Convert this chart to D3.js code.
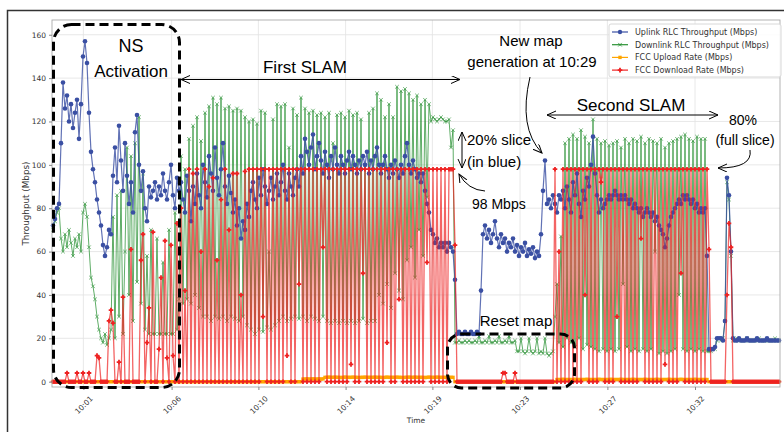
<!DOCTYPE html>
<html>
<head>
	<meta charset="utf-8">
	<script src="https://d3js.org/d3.v7.min.js"></script>
	<title>RLC throughput vs FCC rate</title>
	<style>
		body { margin: 0; background: #fff; }
		svg text { font-family: "DejaVu Sans", sans-serif; }
		.note { font-family: "Liberation Sans", Arial, sans-serif; fill: #000; }
	</style>
</head>
<body>
<div id="chart"></div>
<script type="text/javascript">

	// x is the sample index (one sample every ~2px), ticks are labelled with clock time
	var xTickPos = [15.2, 59.3, 102.7, 146.3, 189.7, 233.5, 277.2, 321];
	var xTickLabels = ["10:01", "10:06", "10:10", "10:14", "10:19", "10:23", "10:27", "10:32"];
	var yTicks = [0, 20, 40, 60, 80, 100, 120, 140, 160];

	var seriesNames = ["Uplink RLC Throughput (Mbps)", "Downlink RLC Throughput (Mbps)",
		"FCC Upload Rate (Mbps)", "FCC Download Rate (Mbps)"];

	var uplink = [
		72, 75, 80, 82, 110, 138, 126, 132, 120, 128,
		117, 124, 130, 112, 128, 150, 157, 147, 124, 106,
		98, 92, 84, 78, 72, 63, 58, 62, 70, 68,
		95, 108, 92, 118, 102, 88, 110, 95, 82, 92,
		78, 115, 123, 100, 88, 97, 80, 74, 90, 85,
		88, 92, 84, 90, 86, 96, 88, 84, 92, 100,
		86, 80, 94, 88, 92, 84, 78, 95, 88, 74,
		90, 82, 96, 86, 80, 100, 92, 85, 104, 96,
		88, 108, 94, 86, 98, 110, 90, 82, 95, 87,
		78, 84, 72, 80, 66, 74, 70, 82, 76, 88,
		92, 84, 80, 94, 86, 98, 90, 82, 88, 94,
		84, 90, 96, 86, 92, 100, 88, 84, 96, 90,
		86, 94, 98, 90, 104, 96, 112, 106, 100, 108,
		114, 98, 104, 110, 102, 96, 106, 100, 94, 104,
		98, 108, 100, 96, 104, 100, 96, 102, 106, 98,
		104, 100, 96, 102, 98, 104, 100, 106, 96, 102,
		98, 104, 108, 100, 96, 100, 104, 98, 94, 100,
		96, 102, 98, 94, 100, 96, 104, 110, 100, 96,
		102, 98, 94, 96, 92, 96, 88, 82, 78, 70,
		68, 64, 66, 62, 64, 62, 64, 60, 64, 62,
		60, 47, 22, 23, 22, 22, 23, 22, 22, 23,
		22, 22, 23, 22, 42, 68, 72, 66, 70, 64,
		68, 74, 66, 62, 68, 64, 66, 60, 64, 62,
		66, 60, 63, 58, 62, 60, 64, 58, 61, 59,
		62, 57, 60, 58, 68, 88, 102, 82, 84, 80,
		86, 82, 78, 86, 84, 88, 80, 90, 84, 78,
		92, 86, 96, 82, 76, 88, 84, 94, 90, 100,
		113, 96, 86, 78, 84, 80, 82, 84, 86, 84,
		86, 88, 86, 84, 86, 84, 86, 84, 82, 84,
		80, 82, 80, 78, 80, 76, 78, 80, 78, 76,
		78, 74, 76, 72, 70, 68, 62, 66, 72, 76,
		78, 80, 82, 84, 82, 86, 84, 86, 84, 82,
		84, 80, 82, 78, 80, 78, 80, 58, 15, 15,
		15, 16, 20, 20, 20, 19, 28, 94, 86, 60,
		20, 19, 19, 20, 19, 19, 19, 20, 19, 19,
		19, 19, 20, 19, 19, 19, 19, 20, 19, 19,
		19, 19, 19, 19
	];

	var downlink = [
		70, 74, 78, 80, 66, 60, 68, 62, 70, 64,
		58, 66, 62, 68, 60, 78, 82, 76, 62, 48,
		44, 38, 30, 24, 20, 18, 22, 17, 20, 24,
		76, 20, 86, 30, 88, 22, 60, 108, 40, 104,
		28, 110, 46, 122, 36, 96, 24, 58, 22, 70,
		22, 22, 66, 22, 22, 55, 22, 22, 70, 22,
		22, 78, 24, 38, 104, 36, 98, 38, 112, 36,
		118, 40, 122, 34, 111, 30, 124, 30, 127, 28,
		131, 30, 128, 29, 131, 30, 126, 28, 127, 30,
		125, 29, 126, 28, 125, 30, 122, 26, 120, 24,
		121, 22, 119, 24, 125, 23, 124, 25, 60, 24,
		121, 26, 128, 28, 127, 30, 128, 28, 108, 29,
		126, 30, 123, 29, 131, 30, 126, 28, 124, 30,
		125, 29, 123, 28, 124, 30, 122, 28, 124, 27,
		110, 28, 123, 27, 124, 28, 122, 27, 125, 28,
		123, 27, 124, 28, 121, 29, 100, 27, 124, 28,
		126, 28, 133, 40, 130, 36, 122, 45, 128, 34,
		122, 50, 136, 42, 134, 38, 135, 56, 133, 62,
		130, 48, 132, 70, 128, 58, 130, 85, 128, 120,
		122, 121, 120, 121, 122, 121, 120, 120, 121, 108,
		116, 18, 18, 19, 18, 18, 19, 18, 19, 18,
		18, 19, 18, 21, 18, 18, 19, 18, 21, 18,
		18, 19, 18, 21, 18, 18, 19, 18, 21, 18,
		18, 19, 14, 14, 20, 14, 13, 14, 20, 14,
		13, 14, 20, 13, 14, 13, 20, 13, 12, 13,
		14, 30, 45, 18, 67, 16, 110, 20, 112, 18,
		114, 16, 112, 20, 116, 15, 113, 17, 110, 16,
		121, 15, 112, 14, 110, 15, 111, 14, 109, 15,
		110, 14, 111, 15, 108, 45, 112, 16, 110, 14,
		112, 15, 111, 14, 113, 15, 110, 14, 112, 15,
		111, 60, 110, 13, 112, 14, 108, 13, 110, 14,
		111, 15, 112, 40, 113, 15, 114, 14, 112, 15,
		111, 14, 113, 15, 112, 14, 112, 14, 14, 14,
		15, 15, 19, 20, 19, 20, 28, 92, 84, 58,
		19, 19, 20, 19, 19, 19, 19, 20, 19, 19,
		19, 19, 19, 20, 19, 19, 19, 19, 19, 19,
		19, 20, 19, 19
	];

	var fccUpload = [
		0, 0, 0, 0, 0, 0, 0, 0, 0, 0,
		0, 0, 0, 0, 0, 0, 0, 0, 0, 0,
		0, 0, 0, 0, 0, 0, 0, 0, 0, 0,
		0, 0, 0, 0, 0, 0, 0, 0, 0, 0,
		0, 0, 0, 0, 0, 0, 0, 0, 0, 0,
		0, 0, 0, 0, 0, 0, 0, 0, 0, 0,
		0, 0, 0, 0, 0, 0, 0, 0, 0, 0,
		0, 0, 0, 0, 0, 0, 0, 0, 0, 0,
		0, 0, 0, 0, 0, 0, 0, 0, 0, 0,
		0, 0, 0, 0, 0, 0, 0, 0, 0, 0,
		0, 0, 0, 0, 0, 0, 0, 0, 0, 0,
		0, 0, 0, 0, 0, 0, 0, 0, 0, 0,
		0, 0, 0, 0, 0, 1.2, 1.2, 1.3, 1.2, 1.2,
		1.3, 1.2, 1.2, 1.3, 1.2, 1.3, 2, 2, 2.1, 2,
		2, 2.1, 2, 2, 1.9, 2, 2.1, 2, 2, 2,
		2.1, 2, 2, 1.9, 2, 2, 2.1, 2, 2, 2,
		2, 2.1, 2, 2, 2, 1.9, 2, 2.1, 2, 2,
		2, 2, 2.1, 2, 2, 1.9, 2, 2, 2.1, 2,
		2, 2.1, 2, 2, 2, 2, 1.9, 2, 2.1, 2,
		2, 2, 2.1, 2, 2, 2, 2, 1.9, 2, 2,
		2, 0, 0, 0, 0, 0, 0, 0, 0, 0,
		0, 0, 0, 0, 0, 0, 0, 0, 0, 0,
		0, 0, 0, 0, 0, 0, 0, 0, 0, 0,
		0, 0, 0, 0, 0, 0, 0, 0, 0, 0,
		0, 0, 0, 0, 0, 0, 0, 0, 0, 0,
		0, 0, 1, 1, 1, 1.1, 1, 1, 1, 1,
		1, 1.1, 1, 1, 1, 1, 1, 1.1, 1, 1,
		1, 1, 1, 1.1, 1, 1, 1, 1, 1, 1.1,
		1, 1, 1, 1, 1.1, 1, 1, 1, 1, 1,
		1.1, 1, 1, 1, 1, 1, 1.1, 1, 1, 1,
		1, 1, 1.1, 1, 1, 1, 1, 1, 1.1, 1,
		1, 1, 1, 1, 1.1, 1, 1, 1, 1, 1,
		1, 1.1, 1, 1, 1, 1, 1, 1, 0, 0,
		0, 0, 0, 0, 0, 0, 0, 0, 0, 0,
		0, 0, 0, 0, 0, 0, 0, 0, 0, 0,
		0, 0, 0, 0, 0, 0, 0, 0, 0, 0,
		0, 0, 0, 0
	];

	var fccDownload = [
		0, 0, 0, 0, 0, 0, 0, 4, 0, 0,
		0, 0, 4, 0, 0, 4, 0, 0, 4, 0,
		0, 0, 12, 11, 0, 0, 0, 0, 28, 33,
		27, 0, 0, 9, 0, 39, 0, 0, 0, 61,
		0, 0, 0, 0, 56, 68, 0, 18, 34, 0,
		69, 0, 0, 15, 48, 0, 65, 11, 0, 63,
		12, 0, 73, 0, 80, 0, 42, 0, 98, 0,
		96, 0, 98, 0, 60, 0, 98, 0, 90, 0,
		94, 0, 56, 0, 84, 0, 98, 0, 70, 0,
		96, 0, 96, 0, 40, 0, 97, 0, 98, 0,
		98, 0, 98, 0, 98, 30, 98, 0, 98, 0,
		98, 0, 98, 0, 98, 0, 98, 12, 98, 0,
		98, 0, 98, 45, 98, 0, 98, 0, 98, 0,
		98, 0, 98, 0, 98, 62, 98, 0, 98, 0,
		98, 0, 98, 0, 98, 0, 98, 0, 98, 8,
		98, 0, 98, 0, 98, 50, 98, 0, 98, 0,
		98, 0, 98, 0, 98, 0, 98, 18, 98, 0,
		98, 0, 98, 38, 98, 0, 98, 0, 98, 0,
		98, 0, 98, 0, 98, 0, 98, 55, 98, 0,
		98, 0, 98, 0, 98, 0, 98, 0, 98, 98,
		98, 63, 0, 0, 0, 0, 0, 0, 0, 0,
		0, 0, 0, 0, 0, 0, 0, 0, 0, 0,
		0, 0, 0, 0, 0, 4, 4, 0, 0, 0,
		0, 4, 0, 0, 0, 0, 0, 0, 0, 0,
		0, 0, 0, 0, 0, 0, 0, 0, 0, 0,
		0, 98, 0, 60, 0, 98, 0, 98, 0, 98,
		0, 98, 0, 98, 0, 98, 40, 98, 0, 98,
		0, 98, 0, 98, 92, 98, 0, 98, 0, 98,
		0, 98, 30, 98, 0, 98, 0, 98, 0, 98,
		0, 98, 0, 98, 66, 98, 0, 98, 0, 98,
		0, 98, 0, 98, 0, 98, 8, 98, 0, 98,
		0, 98, 0, 98, 50, 98, 0, 98, 0, 98,
		0, 98, 0, 98, 0, 98, 0, 98, 61, 0,
		0, 0, 0, 0, 0, 0, 0, 40, 73, 62,
		0, 0, 0, 0, 0, 0, 0, 0, 0, 0,
		0, 0, 0, 0, 0, 0, 0, 0, 0, 0,
		0, 0, 0, 0
	];

	var colBlue = "#3a4fa3", colGreen = "#2a9134", colOrange = "#ffa500", colRed = "#ee2222";

	var svgwidth = 784, svgheight = 432;
	var plotLeft = 52, plotRight = 780, plotTop = 20, plotBottom = 387;

	var svg = d3.select("#chart").append("svg")
		.attr("width", svgwidth)
		.attr("height", svgheight);

	var xScale = d3.scaleLinear()
		.domain([-0.5, uplink.length - 0.5])
		.range([plotLeft, plotRight]);

	var yScale = d3.scaleLinear()
		.domain([-2.45, 166.8])
		.range([plotBottom, plotTop]);

	// arrow heads for the annotations
	var defs = svg.append("defs");
	defs.append("marker")
		.attr("id", "head")
		.attr("markerUnits", "userSpaceOnUse")
		.attr("markerWidth", 12).attr("markerHeight", 10)
		.attr("refX", 9).attr("refY", 4)
		.attr("orient", "auto-start-reverse")
		.append("path")
		.attr("d", "M0,0 L9,4 L0,8")
		.attr("fill", "none").attr("stroke", "#000").attr("stroke-width", 1);

	// figure frame
	svg.append("path")
		.attr("d", "M7.5,432 V10.5 H784")
		.attr("fill", "none").attr("stroke", "#333").attr("stroke-width", 1.5);

	// grid
	svg.append("g").selectAll("line").data(yTicks).enter().append("line")
		.attr("x1", plotLeft).attr("x2", plotRight)
		.attr("y1", function(d){ return yScale(d); })
		.attr("y2", function(d){ return yScale(d); })
		.attr("stroke", "#e2e2e2").attr("stroke-width", 0.8);
	svg.append("g").selectAll("line").data(xTickPos).enter().append("line")
		.attr("y1", plotTop).attr("y2", plotBottom)
		.attr("x1", function(d){ return xScale(d); })
		.attr("x2", function(d){ return xScale(d); })
		.attr("stroke", "#e2e2e2").attr("stroke-width", 0.8);

	var line = d3.line()
		.x(function(d, i){ return xScale(i); })
		.y(function(d){ return yScale(d); });

	// downlink (green x)
	svg.append("path").datum(downlink)
		.attr("d", line).attr("fill", "none")
		.attr("stroke", colGreen).attr("stroke-width", 1).attr("stroke-opacity", 0.75);
	svg.append("g").selectAll("path").data(downlink).enter().append("path")
		.attr("d", "M-1.8,-1.8L1.8,1.8M-1.8,1.8L1.8,-1.8")
		.attr("transform", function(d, i){ return "translate(" + xScale(i) + "," + yScale(d) + ")"; })
		.attr("stroke", colGreen).attr("stroke-width", 0.8).attr("opacity", 0.8);

	// uplink (blue dots)
	svg.append("path").datum(uplink)
		.attr("d", line).attr("fill", "none")
		.attr("stroke", colBlue).attr("stroke-width", 1.2).attr("stroke-opacity", 0.8);
	svg.append("g").selectAll("circle").data(uplink).enter().append("circle")
		.attr("cx", function(d, i){ return xScale(i); })
		.attr("cy", function(d){ return yScale(d); })
		.attr("r", 2.3)
		.attr("fill", colBlue);

	// FCC upload (orange squares)
	svg.append("path").datum(fccUpload)
		.attr("d", line).attr("fill", "none")
		.attr("stroke", colOrange).attr("stroke-width", 1.2);
	svg.append("g").selectAll("rect").data(fccUpload).enter().append("rect")
		.attr("x", function(d, i){ return xScale(i) - 1.7; })
		.attr("y", function(d){ return yScale(d) - 1.7; })
		.attr("width", 3.4).attr("height", 3.4)
		.attr("fill", colOrange);

	// FCC download (red plus)
	svg.append("path").datum(fccDownload)
		.attr("d", line).attr("fill", "none")
		.attr("stroke", colRed).attr("stroke-width", 1.3).attr("stroke-opacity", 0.7);
	svg.append("g").selectAll("path").data(fccDownload).enter().append("path")
		.attr("d", "M-2.3,0H2.3M0,-2.3V2.3")
		.attr("transform", function(d, i){ return "translate(" + xScale(i) + "," + yScale(d) + ")"; })
		.attr("stroke", colRed).attr("stroke-width", 1.8);

	// axes
	svg.append("rect")
		.attr("x", plotLeft).attr("y", plotTop)
		.attr("width", plotRight - plotLeft).attr("height", plotBottom - plotTop)
		.attr("fill", "none").attr("stroke", "#aaa").attr("stroke-width", 0.9);

	var xAxis = svg.append("g")
		.attr("transform", "translate(0," + plotBottom + ")")
		.call(d3.axisBottom(xScale).tickValues(xTickPos)
			.tickFormat(function(d, i){ return xTickLabels[i]; }).tickSize(3));
	xAxis.select(".domain").remove();
	xAxis.selectAll("line").attr("stroke", "#888");
	xAxis.selectAll("text")
		.attr("y", 0).attr("dy", "0.35em")
		.attr("transform", "translate(0,18) rotate(-45)")
		.style("text-anchor", "middle")
		.style("font-size", "7.5px").attr("fill", "#333");

	var yAxis = svg.append("g")
		.attr("transform", "translate(" + plotLeft + ",0)")
		.call(d3.axisLeft(yScale).tickValues(yTicks).tickSize(3));
	yAxis.select(".domain").remove();
	yAxis.selectAll("line").attr("stroke", "#888");
	yAxis.selectAll("text").style("font-size", "7.5px").attr("fill", "#333");

	svg.append("text")
		.attr("x", (plotLeft + plotRight) / 2).attr("y", 423)
		.attr("text-anchor", "middle")
		.style("font-size", "7.5px").attr("fill", "#333")
		.text("Time");

	svg.append("text")
		.attr("transform", "translate(29," + ((plotTop + plotBottom) / 2) + ") rotate(-90)")
		.attr("text-anchor", "middle")
		.style("font-size", "8.8px").attr("fill", "#333")
		.text("Throughput (Mbps)");

	// legend
	var legend = svg.append("g");
	legend.append("rect")
		.attr("x", 609).attr("y", 24).attr("width", 172).attr("height", 53)
		.attr("rx", 2).attr("fill", "#fff").attr("fill-opacity", 0.85)
		.attr("stroke", "#d8d8d8");
	var legendColors = [colBlue, colGreen, colOrange, colRed];
	seriesNames.forEach(function(name, i){
		var ly = 32 + i * 12.7;
		legend.append("line")
			.attr("x1", 612).attr("x2", 628).attr("y1", ly).attr("y2", ly)
			.attr("stroke", legendColors[i]).attr("stroke-width", 1.2);
		if (i == 0) {
			legend.append("circle").attr("cx", 620).attr("cy", ly).attr("r", 2.2).attr("fill", colBlue);
		} else if (i == 1) {
			legend.append("path").attr("d", "M-1.8,-1.8L1.8,1.8M-1.8,1.8L1.8,-1.8")
				.attr("transform", "translate(620," + ly + ")")
				.attr("stroke", colGreen).attr("stroke-width", 0.8);
		} else if (i == 2) {
			legend.append("rect").attr("x", 618.3).attr("y", ly - 1.7)
				.attr("width", 3.4).attr("height", 3.4).attr("fill", colOrange);
		} else {
			legend.append("path").attr("d", "M-2.3,0H2.3M0,-2.3V2.3")
				.attr("transform", "translate(620," + ly + ")")
				.attr("stroke", colRed).attr("stroke-width", 1.8);
		}
		legend.append("text")
			.attr("x", 635).attr("y", ly + 3)
			.style("font-size", "8px").attr("fill", "#333")
			.text(name);
	});

	// annotations
	var notes = svg.append("g");

	notes.append("rect")
		.attr("x", 53.5).attr("y", 24.5).attr("width", 126).attr("height", 363)
		.attr("rx", 18).attr("fill", "none")
		.attr("stroke", "#000").attr("stroke-width", 3).attr("stroke-dasharray", "9,5");
	notes.append("rect")
		.attr("x", 447.5).attr("y", 334).attr("width", 127).attr("height", 54)
		.attr("rx", 14).attr("fill", "none")
		.attr("stroke", "#000").attr("stroke-width", 3).attr("stroke-dasharray", "9,5");

	function note(x, y, size, txt, anchor) {
		notes.append("text").attr("class", "note")
			.attr("x", x).attr("y", y)
			.attr("text-anchor", anchor || "middle")
			.style("font-size", size + "px")
			.text(txt);
	}
	function arrow(d, both) {
		var p = notes.append("path").attr("d", d)
			.attr("fill", "none").attr("stroke", "#000").attr("stroke-width", 1)
			.attr("marker-end", "url(#head)");
		if (both) p.attr("marker-start", "url(#head)");
	}

	note(131, 52, 18, "NS");
	note(131, 77, 17, "Activation");

	note(305, 73, 17, "First SLAM");
	arrow("M181,79.5 H460", true);

	note(531, 46, 15, "New map");
	note(532, 67, 15, "generation at 10:29");
	arrow("M530,77 Q518,128 542,153", false);

	note(631, 111, 17, "Second SLAM");
	arrow("M547,115 H718", true);

	note(467, 145, 15, "20% slice", "start");
	note(467, 167, 15, "(in blue)", "start");
	arrow("M462,132 V168", true);

	note(472, 209, 14, "98 Mbps", "start");
	arrow("M485,191 Q468,190 459,174", false);

	note(743, 125, 14, "80%");
	note(745, 145, 14, "(full slice)");
	arrow("M750,150 Q753,168 718,168", false);

	note(516, 326, 15, "Reset map");

</script>
</body>
</html>
